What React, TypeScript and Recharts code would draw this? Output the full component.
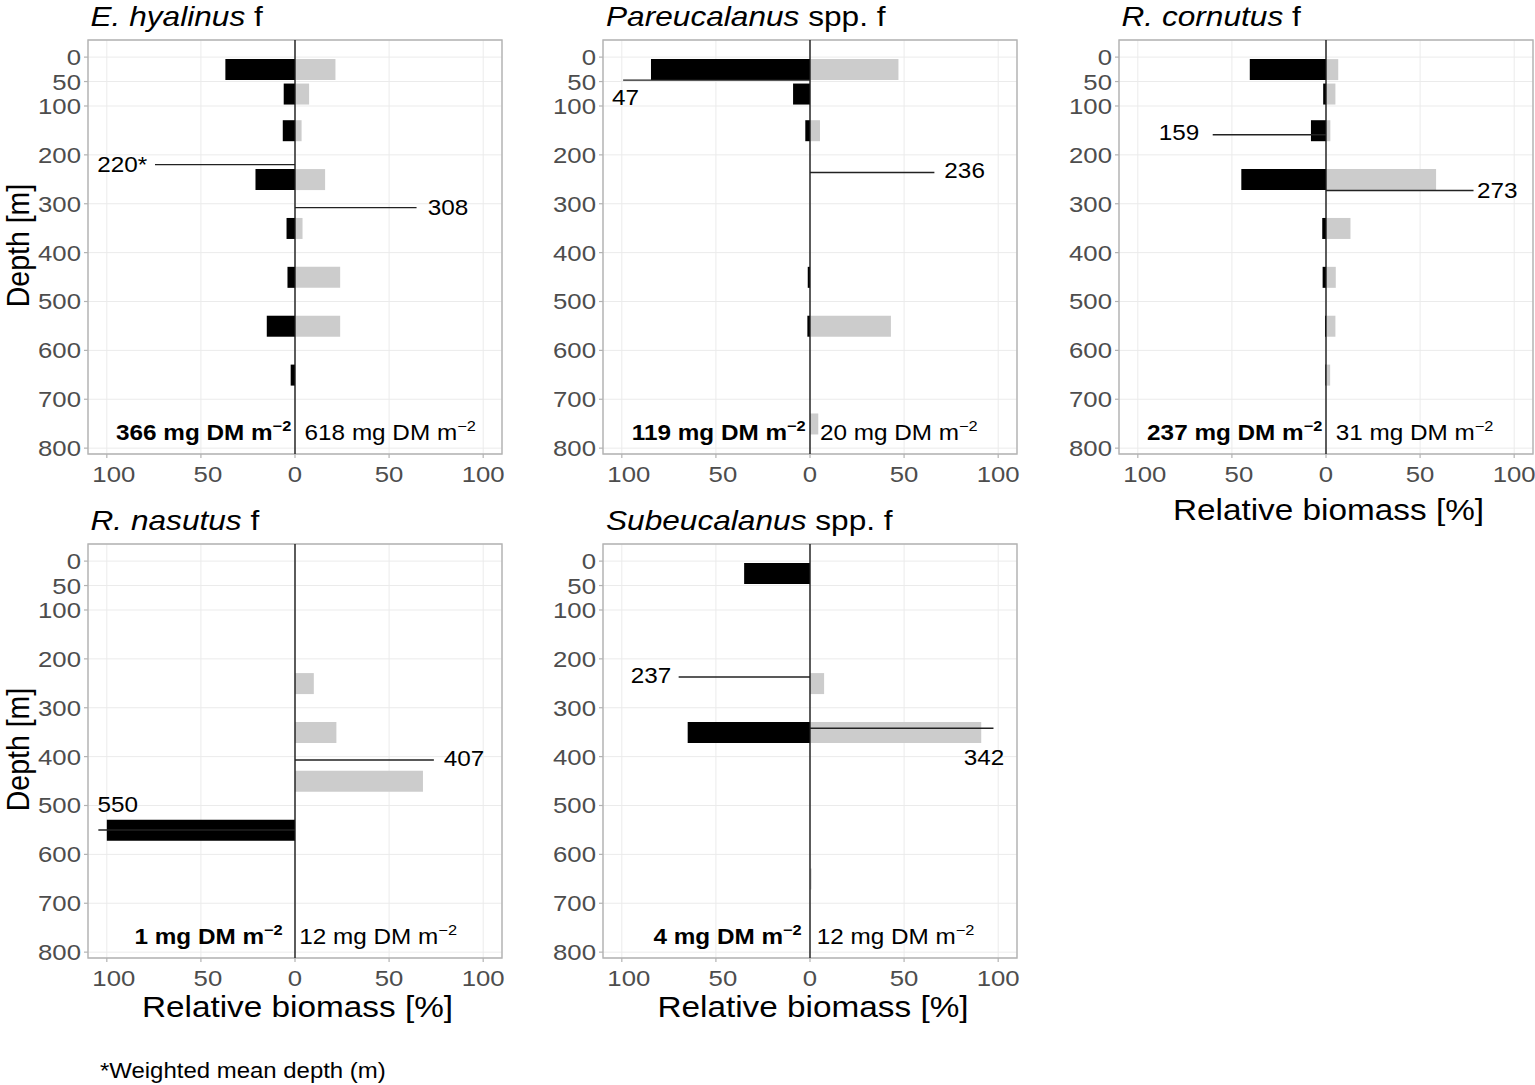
import React from 'react';
import {
  BarChart,
  Bar,
  XAxis,
  YAxis,
  CartesianGrid,
  ReferenceLine,
  ReferenceArea,
  ReferenceDot,
} from 'recharts';

const FONT = '"Liberation Sans", Arial, Helvetica, sans-serif';

// ---------- data ----------
const depthLayers = [25, 75, 150, 250, 350, 450, 550, 650, 750];
const depthTicks = [0, 50, 100, 200, 300, 400, 500, 600, 700, 800];
const biomassTicks = [-100, -50, 0, 50, 100];

const hyalinusBlack = [37, 6, 6.5, 21, 4.5, 4, 15, 2.3, 0];
const hyalinusGrey = [21.5, 7.5, 3.5, 16, 4, 24, 24, 0, 0];
const pareucalanusBlack = [84.5, 9, 2.5, 0, 0, 1.2, 1.4, 0, 0];
const pareucalanusGrey = [47, 0, 5.3, 0, 0, 0, 43, 0, 4.4];
const cornutusBlack = [40.5, 1.5, 8, 45, 2, 1.8, 0.5, 0.3, 0];
const cornutusGrey = [6.5, 5, 2.3, 58.5, 13, 5.2, 5, 2.2, 0];
const nasutusBlack = [0, 0, 0, 0, 0, 0, 100, 0, 0];
const nasutusGrey = [0, 0, 0, 10, 22, 68, 0, 0, 0];
const subeucalanusBlack = [35, 0, 0, 0, 65, 0, 0, 0, 0];
const subeucalanusGrey = [0, 0, 0, 7.5, 91, 0, 0, 0.8, 0];

// weighted mean depths [black, grey] and their labels
const hyalinusWmd = [220, 308];
const hyalinusWmdLabels = ['220*', '308'];
const pareucalanusWmd = [47, 236];
const pareucalanusWmdLabels = ['47', '236'];
const cornutusWmd = [159, 273];
const cornutusWmdLabels = ['159', '273'];
const nasutusWmd = [550, 407];
const nasutusWmdLabels = ['550', '407'];
const subeucalanusWmd = [237, 342];
const subeucalanusWmdLabels = ['237', '342'];

// integrated biomass [black, grey] (mg DM m-2)
const hyalinusTotals = [366, 618];
const pareucalanusTotals = [119, 20];
const cornutusTotals = [237, 31];
const nasutusTotals = [1, 12];
const subeucalanusTotals = [4, 12];

// ---------- layout ----------
const PLOT_W = 414;
const PLOT_H = 414;
const AXIS_W = 80;
const MT = 10;
const MR = 6;
const MB = 4;
const XAXIS_H = 40;
const CHART_W = AXIS_W + PLOT_W + MR;
const CHART_H = MT + PLOT_H + XAXIS_H + MB;
const X_DOMAIN: [number, number] = [-110, 110];
const Y_DOMAIN: [number, number] = [-35, 812];
const TOTALS_DEPTH = 783;
const SX = 1.13; // horizontal stretch of the lettering in the reference

const TICK_SIZE = 22.8;
const NOTE_SIZE = 21.5;
const SUP_SIZE = 14.5;

type MeanLayout = { lineTo: number; labelX: number; labelY: number; anchor: 'start' | 'end' | 'middle' };

type PanelCfg = {
  key: string;
  italic: string;
  rest: string;
  black: number[];
  grey: number[];
  wmd: number[];
  wmdLabels: string[];
  totals: number[];
  left: number;
  top: number;
  depthTitle: boolean;
  xTitleGap: number; // 0 = no x title
  means: MeanLayout[];
  dayPx: number;
  nightPx: number;
};

const panels: PanelCfg[] = [
  {
    key: 'hy', italic: 'E. hyalinus', rest: ' f',
    black: hyalinusBlack, grey: hyalinusGrey, wmd: hyalinusWmd, wmdLabels: hyalinusWmdLabels, totals: hyalinusTotals,
    left: 87.5, top: 39.5, depthTitle: true, xTitleGap: 0,
    means: [
      { lineTo: -74.4, labelX: -78.5, labelY: 219, anchor: 'end' },
      { lineTo: 64.6, labelX: 70.5, labelY: 308, anchor: 'start' },
    ],
    dayPx: -3.7, nightPx: 9.6,
  },
  {
    key: 'pa', italic: 'Pareucalanus', rest: ' spp. f',
    black: pareucalanusBlack, grey: pareucalanusGrey, wmd: pareucalanusWmd, wmdLabels: pareucalanusWmdLabels, totals: pareucalanusTotals,
    left: 603, top: 39.5, depthTitle: false, xTitleGap: 0,
    means: [
      { lineTo: -99.3, labelX: -105.2, labelY: 82, anchor: 'start' },
      { lineTo: 66.1, labelX: 71.4, labelY: 232, anchor: 'start' },
    ],
    dayPx: -4.3, nightPx: 10,
  },
  {
    key: 'co', italic: 'R. cornutus', rest: ' f',
    black: cornutusBlack, grey: cornutusGrey, wmd: cornutusWmd, wmdLabels: cornutusWmdLabels, totals: cornutusTotals,
    left: 1118.5, top: 39.5, depthTitle: false, xTitleGap: 66,
    means: [
      { lineTo: -60.2, labelX: -67.3, labelY: 153, anchor: 'end' },
      { lineTo: 78.4, labelX: 80.2, labelY: 272.5, anchor: 'start' },
    ],
    dayPx: -3.6, nightPx: 9.7,
  },
  {
    key: 'na', italic: 'R. nasutus', rest: ' f',
    black: nasutusBlack, grey: nasutusGrey, wmd: nasutusWmd, wmdLabels: nasutusWmdLabels, totals: nasutusTotals,
    left: 87.5, top: 543.5, depthTitle: true, xTitleGap: 59,
    means: [
      { lineTo: -104.5, labelX: -105, labelY: 497, anchor: 'start' },
      { lineTo: 73.8, labelX: 79, labelY: 404, anchor: 'start' },
    ],
    dayPx: -12.3, nightPx: 4.3,
  },
  {
    key: 'su', italic: 'Subeucalanus', rest: ' spp. f',
    black: subeucalanusBlack, grey: subeucalanusGrey, wmd: subeucalanusWmd, wmdLabels: subeucalanusWmdLabels, totals: subeucalanusTotals,
    left: 603, top: 543.5, depthTitle: false, xTitleGap: 59,
    means: [
      { lineTo: -69.8, labelX: -73.7, labelY: 233, anchor: 'end' },
      { lineTo: 97.5, labelX: 103.3, labelY: 401.7, anchor: 'end' },
    ],
    dayPx: -8.3, nightPx: 6.7,
  },
];

type STextProps = {
  x: number;
  y: number;
  anchor?: 'start' | 'middle' | 'end';
  size: number;
  weight?: string;
  fill?: string;
  children?: React.ReactNode;
};

function SText({ x, y, anchor = 'start', size, weight, fill = '#000', children }: STextProps) {
  return (
    <text
      transform={`translate(${x},${y}) scale(${SX},1)`}
      textAnchor={anchor}
      fontSize={size}
      fontWeight={weight}
      fontFamily={FONT}
      fill={fill}
    >
      {children}
    </text>
  );
}

const renderXTick = (p: any) => {
  const v = p.payload.value;
  return (
    <SText x={p.x + (v < 0 ? 7 : 0)} y={p.y + 17} anchor="middle" size={TICK_SIZE} fill="#4d4d4d">
      {Math.abs(v)}
    </SText>
  );
};

const renderYTick = (p: any) => (
  <SText x={p.x} y={p.y + 8} anchor="end" size={TICK_SIZE} fill="#4d4d4d">
    {p.payload.value}
  </SText>
);

function Panel({ cfg }: { cfg: PanelCfg }) {
  const rows = depthLayers.map((d, i) => ({ depth: d, black: -cfg.black[i], grey: cfg.grey[i] }));
  return (
    <div style={{ position: 'absolute', left: cfg.left - AXIS_W, top: cfg.top - MT }}>
      <BarChart
        width={CHART_W}
        height={CHART_H}
        data={rows}
        layout="vertical"
        stackOffset="sign"
        margin={{ top: MT, right: MR, bottom: MB, left: 0 }}
      >
        <CartesianGrid stroke="#ebebeb" strokeWidth={1} />
        <XAxis
          type="number"
          domain={X_DOMAIN}
          ticks={biomassTicks}
          allowDataOverflow
          interval={0}
          axisLine={false}
          tickSize={4}
          tickMargin={7}
          tickLine={{ stroke: '#b3b3b3', strokeWidth: 1.2 }}
          tick={renderXTick}
          height={XAXIS_H}
        />
        <YAxis
          type="number"
          dataKey="depth"
          domain={Y_DOMAIN}
          ticks={depthTicks}
          allowDataOverflow
          interval={0}
          axisLine={false}
          width={AXIS_W}
          tickSize={4}
          tickMargin={3}
          tickLine={{ stroke: '#b3b3b3', strokeWidth: 1.2 }}
          tick={renderYTick}
        />
        <Bar dataKey="black" stackId="s" fill="#000000" barSize={21} isAnimationActive={false} />
        <Bar dataKey="grey" stackId="s" fill="#cccccc" barSize={21} isAnimationActive={false} />
        <ReferenceArea
          x1={X_DOMAIN[0]}
          x2={X_DOMAIN[1]}
          y1={Y_DOMAIN[0]}
          y2={Y_DOMAIN[1]}
          fill="none"
          fillOpacity={0}
          stroke="#b3b3b3"
          strokeWidth={1.4}
          ifOverflow="visible"
        />
        <ReferenceLine x={0} stroke="#1a1a1a" strokeWidth={1.4} />
        {cfg.wmd.map((d, i) => (
          <ReferenceLine
            key={'seg' + i}
            segment={[{ x: 0, y: d }, { x: cfg.means[i].lineTo, y: d }]}
            stroke="#222222"
            strokeWidth={1.4}
            ifOverflow="visible"
          />
        ))}
        {cfg.wmdLabels.map((t, i) => (
          <ReferenceDot
            key={'lab' + i}
            x={cfg.means[i].labelX}
            y={cfg.means[i].labelY}
            r={0}
            fill="none"
            stroke="none"
            ifOverflow="visible"
            shape={(p: any) => (
              <SText x={p.cx} y={p.cy + 7.7} anchor={cfg.means[i].anchor} size={NOTE_SIZE}>
                {t}
              </SText>
            )}
          />
        ))}
        <ReferenceDot
          x={0}
          y={TOTALS_DEPTH}
          r={0}
          fill="none"
          stroke="none"
          ifOverflow="visible"
          shape={(p: any) => (
            <g>
              <SText x={p.cx + cfg.dayPx} y={p.cy} anchor="end" size={NOTE_SIZE} weight="bold">
                {cfg.totals[0] + ' mg DM m'}
                <tspan dy={-9} fontSize={SUP_SIZE}>−2</tspan>
              </SText>
              <SText x={p.cx + cfg.nightPx} y={p.cy} anchor="start" size={NOTE_SIZE}>
                {cfg.totals[1] + ' mg DM m'}
                <tspan dy={-9} fontSize={SUP_SIZE}>−2</tspan>
              </SText>
            </g>
          )}
        />
      </BarChart>
    </div>
  );
}

export default function App() {
  return (
    <div
      style={{
        position: 'absolute',
        left: 0,
        top: 0,
        width: 1535,
        height: 1085,
        overflow: 'hidden',
        background: '#ffffff',
        fontFamily: FONT,
      }}
    >
      {panels.map((cfg) => (
        <Panel key={cfg.key} cfg={cfg} />
      ))}
      <svg
        width={1535}
        height={1085}
        style={{ position: 'absolute', left: 0, top: 0, pointerEvents: 'none' }}
        fontFamily={FONT}
      >
        {panels.map((cfg) => (
          <g key={'t' + cfg.key}>
            <SText x={cfg.left + 3} y={cfg.top - 14} size={28}>
              <tspan fontStyle="italic">{cfg.italic}</tspan>
              <tspan>{cfg.rest}</tspan>
            </SText>
            {cfg.depthTitle && (
              <text
                transform={`translate(29, ${cfg.top + PLOT_H / 2 - 1}) rotate(-90) scale(1, ${SX})`}
                textAnchor="middle"
                fontSize={28.5}
                fontFamily={FONT}
                fill="#000"
              >
                Depth [m]
              </text>
            )}
            {cfg.xTitleGap > 0 && (
              <SText
                x={cfg.left + PLOT_W / 2 + 3}
                y={cfg.top + PLOT_H + cfg.xTitleGap}
                anchor="middle"
                size={29.5}
              >
                Relative biomass [%]
              </SText>
            )}
          </g>
        ))}
        <SText x={100} y={1078} size={21.2}>
          *Weighted mean depth (m)
        </SText>
      </svg>
    </div>
  );
}
